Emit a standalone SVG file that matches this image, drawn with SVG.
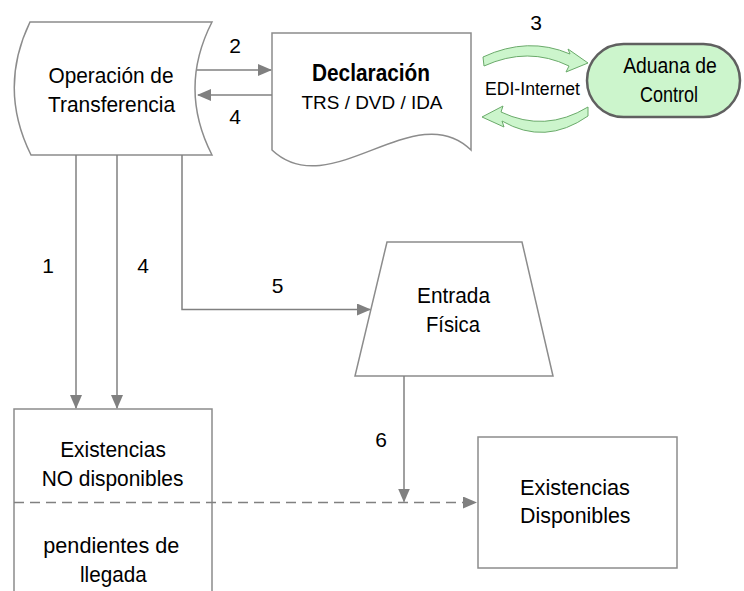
<svg xmlns="http://www.w3.org/2000/svg" width="744" height="591" viewBox="0 0 744 591">
<style>
.shape{fill:#fff;stroke:#8c8c8c;stroke-width:1.5}
.t{font-family:"Liberation Sans",Arial,sans-serif;font-size:22px;fill:#000;text-anchor:middle}
.n{font-family:"Liberation Sans",Arial,sans-serif;font-size:21px;fill:#000;text-anchor:middle}
.conn{fill:none;stroke:#808080;stroke-width:1.5}
.dash{fill:none;stroke:#808080;stroke-width:1.5;stroke-dasharray:10 6}
.garrow{fill:#ccf5cc;stroke:#6aaa6a;stroke-width:1}
</style>
<defs>
<marker id="ah" markerWidth="14" markerHeight="12" refX="13" refY="6" orient="auto" markerUnits="userSpaceOnUse">
<path d="M0,0 L14,6 L0,12 Z" fill="#808080"/>
</marker>
</defs>
<rect width="744" height="591" fill="#fff"/>

<g id="operacion">
<path class="shape" d="M30,22 L212,22 Q178,88.5 212,155 L31,155 Q-2,88.5 30,22 Z"/>
<text class="t" x="111" y="82.7" textLength="125" lengthAdjust="spacingAndGlyphs">Operación de</text>
<text class="t" x="111.5" y="111.7" textLength="127" lengthAdjust="spacingAndGlyphs">Transferencia</text>
</g>

<g id="declaracion">
<path class="shape" d="M272,33 L471,33 L471,150 C415,95 330,205 272,150 Z"/>
<text class="t" x="371" y="81" style="font-weight:bold;font-size:23px" textLength="118" lengthAdjust="spacingAndGlyphs">Declaración</text>
<text class="t" x="372" y="109.3" style="font-size:19px" textLength="141" lengthAdjust="spacingAndGlyphs">TRS / DVD / IDA</text>
</g>

<g id="aduana">
<rect x="587" y="44" width="153" height="73" rx="36.5" ry="36.5" fill="#ccf5cc" stroke="#606060" stroke-width="2.5"/>
<text class="t" x="670" y="73.3" textLength="93.7" lengthAdjust="spacingAndGlyphs">Aduana de</text>
<text class="t" x="669" y="101.7" textLength="58" lengthAdjust="spacingAndGlyphs">Control</text>
</g>

<g id="entrada">
<path class="shape" d="M387,242 L522,242 L553,376 L355,376 Z"/>
<text class="t" x="453.5" y="302.7" textLength="73" lengthAdjust="spacingAndGlyphs">Entrada</text>
<text class="t" x="453" y="331.7" textLength="54" lengthAdjust="spacingAndGlyphs">Física</text>
</g>

<g id="existencias-no">
<path class="shape" style="fill:none" d="M14,600 L14,409 L212,409 L212,600"/>
<text class="t" x="113" y="457.3" textLength="105.7" lengthAdjust="spacingAndGlyphs">Existencias</text>
<text class="t" x="112.5" y="486" textLength="141.7" lengthAdjust="spacingAndGlyphs">NO disponibles</text>
<text class="t" x="111.3" y="552.7" textLength="136" lengthAdjust="spacingAndGlyphs">pendientes de</text>
<text class="t" x="113.3" y="581.5" textLength="66.7" lengthAdjust="spacingAndGlyphs">llegada</text>
</g>

<g id="existencias-disp">
<rect class="shape" x="478" y="437" width="199" height="131"/>
<text class="t" x="575" y="495" textLength="110" lengthAdjust="spacingAndGlyphs">Existencias</text>
<text class="t" x="575.3" y="523" textLength="110.5" lengthAdjust="spacingAndGlyphs">Disponibles</text>
</g>

<g id="connectors">
<path class="conn" d="M197,70 L271,70" marker-end="url(#ah)"/>
<path class="conn" d="M272,95 L198,95" marker-end="url(#ah)"/>
<path class="conn" d="M76,155 L76,408" marker-end="url(#ah)"/>
<path class="conn" d="M117,155 L117,408" marker-end="url(#ah)"/>
<path class="conn" d="M182,155 L182,309.5 L370,309.5" marker-end="url(#ah)"/>
<path class="conn" d="M404,376 L404,501.5" marker-end="url(#ah)"/>
<path class="dash" d="M14,502.5 L476,502.5" marker-end="url(#ah)"/>
<path class="garrow" d="M483,57 Q528,36 570,54 L568,49 L588,63 L566,72 L569,66 Q528,46 484,66 Z"/>
<path class="garrow" d="M588,107 Q545,133 501,112 L503,106 L482,117 L504,127 L502,121 Q545,146 588,116 Z"/>
<text class="n" x="235" y="53">2</text>
<text class="n" x="235" y="124">4</text>
<text class="n" x="536" y="30">3</text>
<text class="t" x="532.5" y="95" style="font-size:18px" textLength="95" lengthAdjust="spacingAndGlyphs">EDI-Internet</text>
<text class="n" x="48" y="273">1</text>
<text class="n" x="143" y="273">4</text>
<text class="n" x="277.5" y="293">5</text>
<text class="n" x="381" y="447">6</text>
</g>
</svg>
